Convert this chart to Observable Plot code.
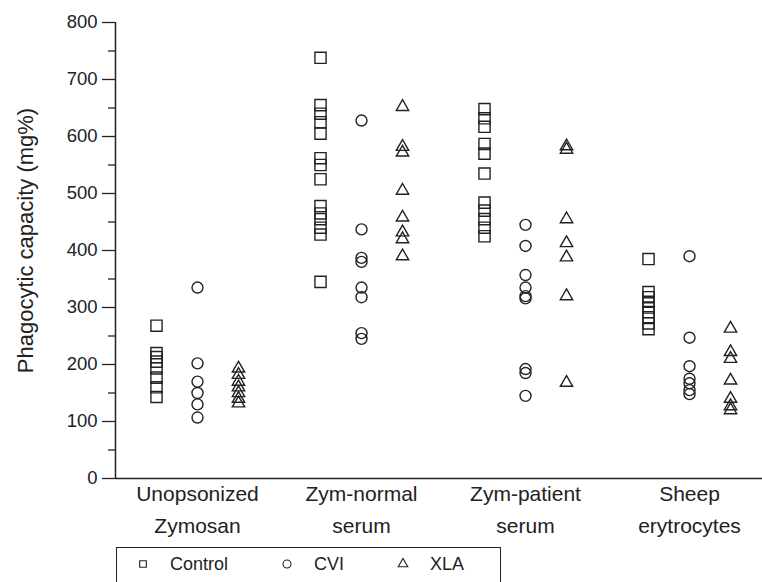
<!DOCTYPE html>
<html>
<head>
<meta charset="utf-8">
<script src="https://cdn.jsdelivr.net/npm/d3@7"></script>
<script src="https://cdn.jsdelivr.net/npm/@observablehq/plot@0.6"></script>
<style>
  body { margin: 0; background: #fff; font-family: "Liberation Sans", Arial, sans-serif; color: #222; }
  #wrap { position: relative; width: 762px; height: 582px; overflow: hidden; background: #fff; }
  #chart svg { display: block; }
  #legend { position: absolute; left: 116px; top: 547px; width: 385px; height: 44px; border: 1.5px solid #222; box-sizing: border-box; display: flex; align-items: center; padding-left: 19px; padding-bottom: 10px; font-size: 18px; }
  .item { display: flex; align-items: center; margin-right: 52px; }
  .item svg { margin-right: 20px; }
</style>
</head>
<body>
<div id="wrap">
  <div id="chart"></div>
  <div id="legend"></div>
</div>
<script>
// ---- data ----
const categories = ["Unopsonized\nZymosan", "Zym-normal\nserum", "Zym-patient\nserum", "Sheep\nerytrocytes"];
const seriesNames = ["Control", "CVI", "XLA"];
const yTicks = [0, 100, 200, 300, 400, 500, 600, 700, 800];
const yMinorTicks = [50, 150, 250, 350, 450, 550, 650, 750];
const yLabel = "Phagocytic capacity (mg%)";

const controlValues = [
  [268, 220, 213, 205, 193, 177, 160, 143],
  [738, 655, 640, 625, 605, 562, 550, 525, 478, 465, 455, 440, 428, 345],
  [648, 632, 617, 587, 570, 535, 484, 470, 455, 440, 425],
  [385, 327, 318, 310, 300, 292, 283, 272, 262]
];
const cviValues = [
  [335, 202, 170, 150, 130, 107],
  [628, 437, 387, 380, 335, 318, 255, 245],
  [445, 408, 357, 335, 320, 316, 192, 185, 145],
  [390, 247, 197, 175, 167, 155, 148]
];
const xlaValues = [
  [193, 182, 170, 160, 150, 140, 132],
  [652, 582, 572, 505, 458, 432, 420, 390],
  [583, 577, 455, 413, 388, 320, 168],
  [263, 222, 210, 172, 140, 127, 120]
];

// ---- build table ----
const seriesValues = [controlValues, cviValues, xlaValues];
const rows = [];
seriesValues.forEach((byCat, s) => {
  byCat.forEach((vals, c) => {
    vals.forEach(v => rows.push({series: seriesNames[s], si: s, cat: c, value: v}));
  });
});

const symbols = {Control: "square", CVI: "circle", XLA: "triangle"};
const radii = {Control: 6.3, CVI: 5.5, XLA: 4.6};
const xDomain = [-0.5, 3.445];
const xPos = d => d.cat + (d.si - 1) * 0.25;
const ink = "#222";

const dotMarks = seriesNames.map(name =>
  Plot.dot(rows.filter(d => d.series === name), {
    x: xPos, y: "value", symbol: () => symbols[name], r: radii[name],
    stroke: ink, strokeWidth: 1.4, fill: "none"
  })
);

const chart = Plot.plot({
  width: 762,
  height: 548,
  marginLeft: 115,
  marginRight: 0,
  marginTop: 22,
  marginBottom: 70,
  style: {fontFamily: "'Liberation Sans', Arial, sans-serif", color: ink, background: "#fff", overflow: "visible"},
  x: {domain: xDomain},
  y: {domain: [0, 800]},
  symbol: {type: "identity"},
  marks: [
    Plot.axisY({ticks: yTicks, tickSize: 13, tickPadding: 5, fontSize: 18.5, label: null, stroke: ink, strokeWidth: 1.3, fill: ink}),
    Plot.axisY({ticks: yMinorTicks, tickSize: 7, tickFormat: () => "", label: null, stroke: ink, strokeWidth: 1.3}),
    Plot.axisX({ticks: [0, 1, 2, 3], tickFormat: i => categories[i], tickSize: 0, tickPadding: 0, fontSize: 21, lineHeight: 1.52, label: null, fill: ink}),
    Plot.ruleX([xDomain[0]], {stroke: ink, strokeWidth: 1.5}),
    Plot.ruleY([0], {stroke: ink, strokeWidth: 1.5}),
    Plot.text([yLabel], {frameAnchor: "left", textAnchor: "middle", rotate: -90, dx: -90, dy: -10, fontSize: 22, fill: ink}),
    ...dotMarks
  ]
});
document.getElementById("chart").appendChild(chart);

// ---- legend ----
const legend = d3.select("#legend");
seriesNames.forEach(name => {
  const item = legend.append("div").attr("class", "item");
  const svg = item.append("svg").attr("width", 14).attr("height", 14).attr("viewBox", "-7 -7 14 14");
  const sym = {square: d3.symbolSquare, circle: d3.symbolCircle, triangle: d3.symbolTriangle}[symbols[name]];
  const size = {square: 44, circle: 50, triangle: 40}[symbols[name]];
  svg.append("path").attr("d", d3.symbol(sym, size)()).attr("fill", "none").attr("stroke", ink).attr("stroke-width", 1.1);
  item.append("span").text(name);
});
</script>
</body>
</html>
